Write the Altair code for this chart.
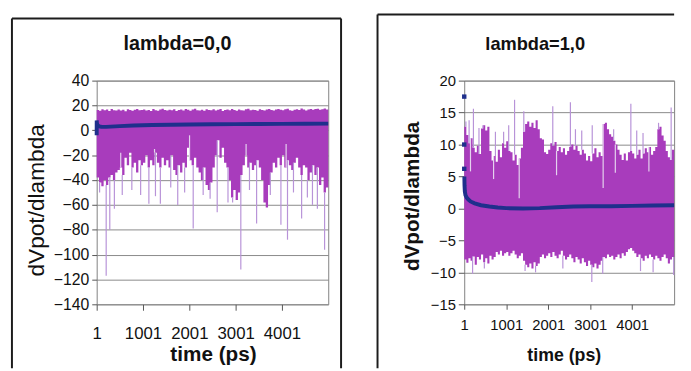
import altair as alt
import pandas as pd

FONT = "Liberation Sans"
PURPLE = "#a83cbc"
SPIKE = "#b893d8"
NOTCH = "#e4d2ee"
BLUE = "#1f2f8c"
GRID = "#8a8a8a"
FRAME = "#1c1c1c"
TEXT = "#111111"

BIN = 50
T_END = 5001
X_TICKS = [1, 1001, 2001, 3001, 4001]
X_TITLE = "time (ps)"
Y_TITLE = "dVpot/dlambda"

# ---------------- lambda = 0,0 ----------------
L_TITLE = "lambda=0,0"
L_Y_DOMAIN = [-140, 40]
L_Y_TICKS = [-140, -120, -100, -80, -60, -40, -20, 0, 20, 40]
L_HIGH = [
    16.4, 15.8, 17.0, 16.1, 16.7, 15.6, 17.1, 16.2, 15.9, 16.8,
    16.0, 16.6, 15.4, 16.9, 16.3, 15.7, 16.5, 17.2, 16.1, 16.4,
    16.8, 16.0, 16.4, 15.6, 17.1, 16.2, 15.8, 16.7, 17.4, 16.3,
    15.9, 16.6, 16.1, 17.0, 15.5, 16.4, 16.8, 16.0, 17.1, 16.5,
    15.8, 16.7, 17.3, 16.2, 16.0, 16.6, 15.7, 16.9, 16.4, 16.1,
    17.0, 15.9, 16.5, 17.1, 15.6, 16.3, 16.8, 16.1, 17.2, 16.4,
    15.8, 16.7, 16.2, 16.0, 16.9, 17.4, 16.1, 16.6, 16.3, 15.7,
    17.0, 16.4, 15.9, 16.8, 17.2, 16.3, 16.0, 16.7, 17.1, 16.5,
    16.1, 16.9, 17.3, 16.2, 15.8, 16.6, 17.0, 16.4, 17.5, 16.7,
    16.0, 16.8, 17.2, 16.5, 17.1, 17.4, 16.6, 17.0, 17.6, 16.8,
]
L_LOW = [
    -38, -42, -45, -40, -44, -38, -36, -40, -34, -32,
    -30, -36, -22, -28, -18, -30, -26, -34, -24, -28,
    -26, -20, -30, -24, -28, -18, -26, -30, -22, -28,
    -24, -30, -20, -32, -36, -28, -34, -26, -30, -14,
    -24, -28, -22, -30, -34, -40, -30, -44, -48, -42,
    -30, -20, -8, -22, -14, -26, -30, -40, -54, -48,
    -56, -50, -36, -28, -20, -30, -26, -32, -28, -24,
    -30, -40, -58, -62, -44, -34, -26, -30, -22, -28,
    -20, -30, -24, -28, -32, -26, -22, -30, -36, -28,
    -30, -40, -34, -28, -36, -30, -44, -38, -50, -46,
]
L_SPIKE_T = [64, 206, 284, 383, 553, 760, 950, 1128, 1270, 1376, 1600, 1751,
             1900, 2085, 2300, 2450, 2603, 2836, 2936, 3113, 3300, 3454, 3650,
             3750, 3979, 4121, 4250, 4426, 4550, 4660, 4766, 4922]
L_SPIKE_V = [-50, -117, -80, -63, -52, -48, -52, -59, -53, -59, -46, -60,
             -50, -79, -52, -55, -66, -58, -58, -112, -48, -75, -62,
             -52, -76, -88, -50, -71, -54, -60, -63, -96]
L_NOTCH_T = [520, 1250, 2006, 3227, 4091]
L_NOTCH_V = [-18, -15, -4, -11, -11]
L_AVG_T = [1, 2, 4, 8, 15, 30, 60, 100, 200, 300, 500, 800, 1200, 1600, 2000,
           2500, 3000, 3500, 4000, 4500, 5000]
L_AVG_V = [-4, 8, 6.5, 5.5, 4.5, 3.8, 3.2, 2.9, 2.8, 3.0, 3.4, 3.9, 4.3, 4.5,
           4.7, 4.9, 5.0, 5.1, 5.2, 5.3, 5.4]

# ---------------- lambda = 1,0 ----------------
R_TITLE = "lambda=1,0"
R_Y_DOMAIN = [-15, 20]
R_Y_TICKS = [-15, -10, -5, 0, 5, 10, 15, 20]
R_HIGH = [
    12.8, 11.5, 10.2, 11.0, 9.5, 8.8, 9.8, 8.5, 12.5, 13.0,
    12.2, 12.8, 9.0, 7.5, 8.2, 7.3, 9.2, 8.0, 10.2, 9.5,
    10.5, 9.0, 8.8, 7.5, 8.4, 6.8, 7.8, 9.5, 12.0, 13.2,
    13.6, 12.8, 13.4, 12.6, 13.8, 12.4, 11.0, 10.8, 8.8, 8.5,
    9.2, 10.2, 9.8, 10.4, 9.0, 9.6, 8.8, 9.4, 8.4, 9.0,
    9.6, 10.0, 9.2, 9.8, 9.0, 8.4, 9.2, 8.6, 7.5, 8.2,
    7.4, 8.6, 9.4, 8.0, 8.8, 8.2, 13.2, 13.4, 12.4, 11.6,
    11.2, 10.6, 10.0, 9.2, 8.4, 7.6, 8.6, 7.5, 8.8, 9.0,
    8.6, 7.8, 8.4, 9.2, 7.8, 8.6, 9.4, 8.8, 9.6, 8.4,
    9.0, 9.6, 12.4, 12.8, 11.4, 10.6, 9.0, 8.0, 7.6, 9.2,
]
R_LOW = [
    -8.0, -8.5, -7.8, -8.2, -7.5, -8.8, -7.6, -8.0, -7.2, -8.4,
    -7.8, -8.6, -7.4, -8.0, -7.6, -6.8, -7.2, -6.6, -7.4, -7.0,
    -6.8, -7.4, -7.0, -6.6, -7.2, -7.8, -7.4, -7.0, -8.2, -8.8,
    -9.2, -8.6, -9.4, -8.4, -9.0, -8.6, -7.6, -7.2, -7.8, -7.4,
    -7.0, -7.6, -6.8, -7.4, -7.8, -7.2, -6.6, -7.4, -8.0, -7.6,
    -7.2, -7.8, -8.4, -7.6, -8.0, -8.6, -7.8, -8.4, -9.0, -8.2,
    -8.8, -9.2, -8.6, -9.4, -8.8, -8.2, -7.6, -7.8, -7.2, -7.6,
    -7.4, -8.0, -7.6, -7.2, -7.8, -7.0, -7.4, -6.8, -6.4, -6.2,
    -6.6, -7.0, -7.6, -7.2, -7.8, -8.2, -7.4, -7.8, -7.2, -7.6,
    -8.0, -7.4, -7.8, -8.2, -7.6, -7.2, -7.8, -8.6, -8.0, -7.6,
]
R_SPIKE_UP_T = [40, 117, 220, 352, 446, 744, 939, 1060, 1200, 1420, 2110, 2530,
                2650, 2800, 3050, 3560, 3970, 4110, 4260, 4630, 4930]
R_SPIKE_UP_V = [13.6, 13.8, 15.6, 12.6, 13.0, 12.0, 12.0, 13.0, 17.0, 15.2, 16.0,
                16.6, 12.4, 12.2, 13.0, 12.4, 16.4, 12.2, 11.8, 13.4, 15.8]
R_SPIKE_DN_T = [200, 480, 1450, 1700, 2350, 3040, 3300, 4200, 4500, 4990]
R_SPIKE_DN_V = [-10.2, -9.4, -9.8, -10.0, -9.4, -11.5, -10.2, -9.8, -10.0, -10.4]
R_NOTCH_T = [150, 700, 1310, 2200, 3310, 3600, 4400]
R_NOTCH_V = [5.8, 4.6, 1.6, 5.2, 3.2, 5.6, 5.8]
R_START_T = [1, 1, 1]
R_START_V = [17.5, 10.0, 6.2]
R_AVG_T = [4, 8, 15, 30, 60, 100, 150, 250, 400, 600, 800, 1000, 1400, 1800,
           2200, 2600, 3000, 3500, 4000, 4500, 5000]
R_AVG_V = [5.0, 3.6, 2.7, 2.1, 1.7, 1.4, 1.1, 0.8, 0.5, 0.3, 0.15, 0.05, 0.0,
           0.05, 0.2, 0.3, 0.35, 0.35, 0.4, 0.45, 0.5]


def band_df(high, low):
    t = [1 + BIN * i for i in range(len(high))] + [T_END]
    return pd.DataFrame({"t": t, "v": list(high) + [high[-1]],
                         "v2": list(low) + [low[-1]]})


def rule_df(ts, vs, ref):
    return pd.DataFrame({"t": ts, "v": vs,
                         "v2": [ref[min(int(t) // BIN, len(ref) - 1)] for t in ts]})


ONE = pd.DataFrame({"k": [0]})


def panel(cfg):
    xs = alt.Scale(domain=[1, T_END], nice=False, zero=False)
    ys = alt.Scale(domain=cfg["ydom"], nice=False, zero=False)
    xaxis = alt.Axis(values=X_TICKS, format="d", title=X_TITLE, grid=False, domain=False,
                     ticks=True, tickSize=cfg["xtick"], tickColor="#555555",
                     labelFont=FONT, labelFontSize=cfg["xlab_fs"], labelColor=TEXT,
                     labelPadding=cfg["xlab_pad"], labelFlush=False, labelOverlap=False,
                     titleFont=FONT, titleFontSize=cfg["xt_fs"], titleFontWeight="bold",
                     titleColor=TEXT, titleX=cfg["xt_x"], titleY=cfg["xt_y"],
                     titleBaseline="alphabetic", titleAlign="center")
    yaxis = alt.Axis(values=cfg["yticks"], format="d", title=Y_TITLE, grid=True,
                     gridColor=GRID, gridWidth=1, domain=False, ticks=True,
                     tickSize=cfg["ytick"], tickColor="#555555", labelFont=FONT,
                     labelFontSize=cfg["ylab_fs"], labelColor=TEXT,
                     labelPadding=cfg["ylab_pad"], labelFlush=False, labelOverlap=False,
                     titleFont=FONT, titleFontSize=cfg["yt_fs"],
                     titleFontWeight=cfg["yt_w"], titleColor=TEXT, titleAngle=270,
                     titleX=cfg["yt_x"], titleY=cfg["yt_y"], titleBaseline="middle",
                     titleAlign="center")

    def enc(chart, with_y2=True):
        e = dict(x=alt.X("t:Q", scale=xs, axis=xaxis),
                 y=alt.Y("v:Q", scale=ys, axis=yaxis))
        if with_y2:
            e["y2"] = alt.Y2("v2:Q")
        return chart.encode(**e)

    layers = [enc(alt.Chart(band_df(cfg["high"], cfg["low"])).mark_area(
        color=PURPLE, interpolate="step-after", opacity=1))]
    for ts, vs, ref, col in cfg["rules"]:
        layers.append(enc(alt.Chart(rule_df(ts, vs, ref)).mark_rule(
            color=col, strokeWidth=1.2)))
    layers.append(enc(alt.Chart(pd.DataFrame({"t": cfg["avg_t"], "v": cfg["avg_v"]}))
                      .mark_line(color=BLUE, strokeWidth=4), with_y2=False))
    if cfg.get("start_t"):
        layers.append(enc(alt.Chart(pd.DataFrame({"t": cfg["start_t"], "v": cfg["start_v"]}))
                          .mark_square(color=BLUE, size=20, opacity=1), with_y2=False))
    # title
    layers.append(alt.Chart(ONE).mark_text(
        text=cfg["title"], font=FONT, fontSize=cfg["title_fs"], fontWeight="bold",
        align="center", baseline="alphabetic", color=TEXT).encode(
        x=alt.value(cfg["title_x"]), y=alt.value(cfg["title_y"])))
    # chart-area frame (left, top, right edges)
    fl, ft, fr, fb = cfg["frame"]
    layers.append(alt.Chart(ONE).mark_rule(color=FRAME, strokeWidth=2).encode(
        x=alt.value(fl), y=alt.value(ft), y2=alt.value(fb)))
    layers.append(alt.Chart(ONE).mark_rule(color=FRAME, strokeWidth=2).encode(
        x=alt.value(fl), x2=alt.value(fr), y=alt.value(ft)))
    if cfg["frame_right"]:
        layers.append(alt.Chart(ONE).mark_rule(color=FRAME, strokeWidth=2).encode(
            x=alt.value(fr), y=alt.value(ft), y2=alt.value(fb)))
    return alt.layer(*layers).properties(width=cfg["w"], height=cfg["h"])


left = panel(dict(
    ydom=L_Y_DOMAIN, yticks=L_Y_TICKS, high=L_HIGH, low=L_LOW,
    rules=[(L_NOTCH_T, L_NOTCH_V, L_LOW, NOTCH), (L_SPIKE_T, L_SPIKE_V, L_LOW, SPIKE)],
    avg_t=L_AVG_T, avg_v=L_AVG_V, title=L_TITLE, title_fs=20, title_x=82, title_y=-31,
    w=235, h=227, xtick=6, xlab_fs=17, xlab_pad=16, xt_fs=21, xt_x=118, xt_y=57,
    ylab_fs=16, ylab_pad=3, ytick=5, yt_fs=23, yt_w="normal", yt_x=-61, yt_y=121,
    frame=(-86, -63, 248, 292), frame_right=True))

right = panel(dict(
    ydom=R_Y_DOMAIN, yticks=R_Y_TICKS, high=R_HIGH, low=R_LOW,
    rules=[(R_NOTCH_T, R_NOTCH_V, R_HIGH, NOTCH), (R_SPIKE_UP_T, R_SPIKE_UP_V, R_HIGH, SPIKE),
           (R_SPIKE_DN_T, R_SPIKE_DN_V, R_LOW, SPIKE)],
    avg_t=R_AVG_T, avg_v=R_AVG_V, start_t=R_START_T, start_v=R_START_V,
    title=R_TITLE, title_fs=18.5, title_x=72, title_y=-31,
    w=213, h=227, xtick=5, xlab_fs=15, xlab_pad=9, xt_fs=18, xt_x=101, xt_y=57,
    ylab_fs=15, ylab_pad=3, ytick=6, yt_fs=21, yt_w="bold", yt_x=-52, yt_y=117,
    frame=(-88, -67, 213, 292), frame_right=False))

chart = alt.hconcat(left, right, spacing=138, bounds="flush").properties(
    padding={"left": 2, "top": 2, "right": 0, "bottom": 0},
    background="white",
).configure(font=FONT).configure_view(stroke="#808080", strokeWidth=1)

chart.save("out.html", embed_options={"renderer": "svg", "actions": False})
